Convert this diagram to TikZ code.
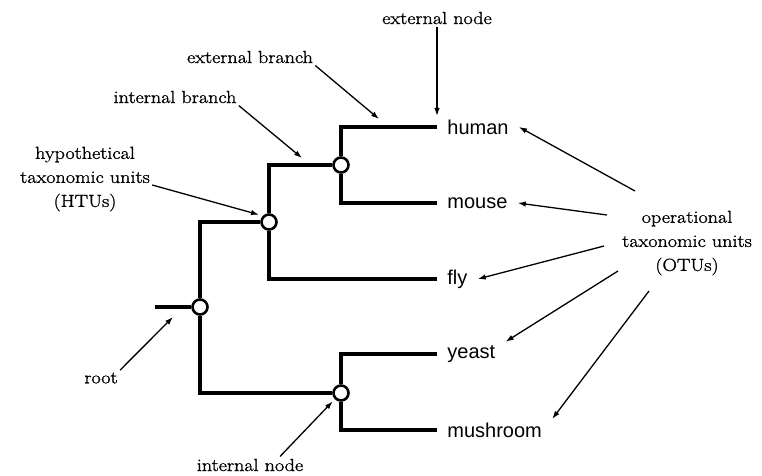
\documentclass[tikz,border=0pt]{standalone}
\usepackage{fontspec}
\setmainfont{Latin Modern Roman}[FakeStretch=1.15, FakeBold=1.2]
\setsansfont{Liberation Sans}
\usetikzlibrary{positioning, arrows.meta}

\begin{document}
\begin{tikzpicture}[x=1pt, y=-1pt, thick,
    hnode/.style = {draw, circle, fill=white, line width=2.6pt, minimum size=15pt, inner sep=0pt},
    leaf/.style = {anchor=west, inner xsep=10pt, font=\sffamily\fontsize{20}{24}\selectfont},
    lbl/.style = {align=center, inner sep=2pt, font=\fontsize{17.5}{24}\selectfont},
    branch/.style = {line width=3.2pt},
    arr/.style = {-{Latex[length=8pt, width=5.5pt]}, line width=1.3pt}]
    \useasboundingbox (0,0) rectangle (762,475);

    % tree nodes
    \node[hnode] (r) at (200,307) {};
    \node[hnode] (a) at (269,222) {};
    \node[hnode] (b) at (341,165) {};
    \node[hnode] (c) at (341,393) {};
    \coordinate (stem) at (155,307);

    % leaves
    \node[leaf] (human) at (437,127) {human};
    \node[leaf] (mouse) at (437,203) {mouse};
    \node[leaf] (fly) at (437,279) {fly};
    \node[leaf] (yeast) at (437,354) {yeast};
    \node[leaf] (mushroom) at (437,430) {mushroom};

    % branches
    \draw[branch] (stem) -- (r);
    \draw[branch] (r) |- (a);
    \draw[branch] (r) |- (c);
    \draw[branch] (a) |- (b);
    \draw[branch] (a) |- (fly);
    \draw[branch] (b) |- (human);
    \draw[branch] (b) |- (mouse);
    \draw[branch] (c) |- (yeast);
    \draw[branch] (c) |- (mushroom);

    % labels
    \node[lbl] (extnode) at (437,18) {external node};
    \node[lbl] (extbranch) at (250,57) {external branch};
    \node[lbl] (intbranch) at (175,97) {internal branch};
    \node[lbl] (htus) at (85,179) {hypothetical\\taxonomic units\\(HTUs)};
    \node[lbl] (rootlbl) at (101,378) {root};
    \node[lbl] (intnode) at (250,465) {internal node};
    \node[lbl] (otus) at (687,243) {operational\\taxonomic units\\(OTUs)};

    \coordinate (extbranchtip) at (379,119);
    \coordinate (intbranchtip) at (302,158);
    \coordinate (roottip) at (173,317);
    \coordinate (o1) at (635,191);
    \coordinate (o2) at (607,215);
    \coordinate (o3) at (604,246);
    \coordinate (o4) at (618,271);
    \coordinate (o5) at (649,291);

    % pointers
    \draw[arr] (extnode) -- (human.north west);
    \draw[arr] (extbranch.south east) -- (extbranchtip);
    \draw[arr] (intbranch.south east) -- (intbranchtip);
    \draw[arr, shorten >=4pt] ([yshift=-6pt]htus.east) -- (a.135);
    \draw[arr] (rootlbl.north east) -- (roottip);
    \draw[arr, shorten >=3pt] ([xshift=30pt]intnode.north) -- (c.225);
    \draw[arr] (o1) -- (human.east);
    \draw[arr] (o2) -- (mouse.east);
    \draw[arr] (o3) -- (fly.east);
    \draw[arr] (o4) -- (yeast.north east);
    \draw[arr] (o5) -- (mushroom.north east);
\end{tikzpicture}
\end{document}
